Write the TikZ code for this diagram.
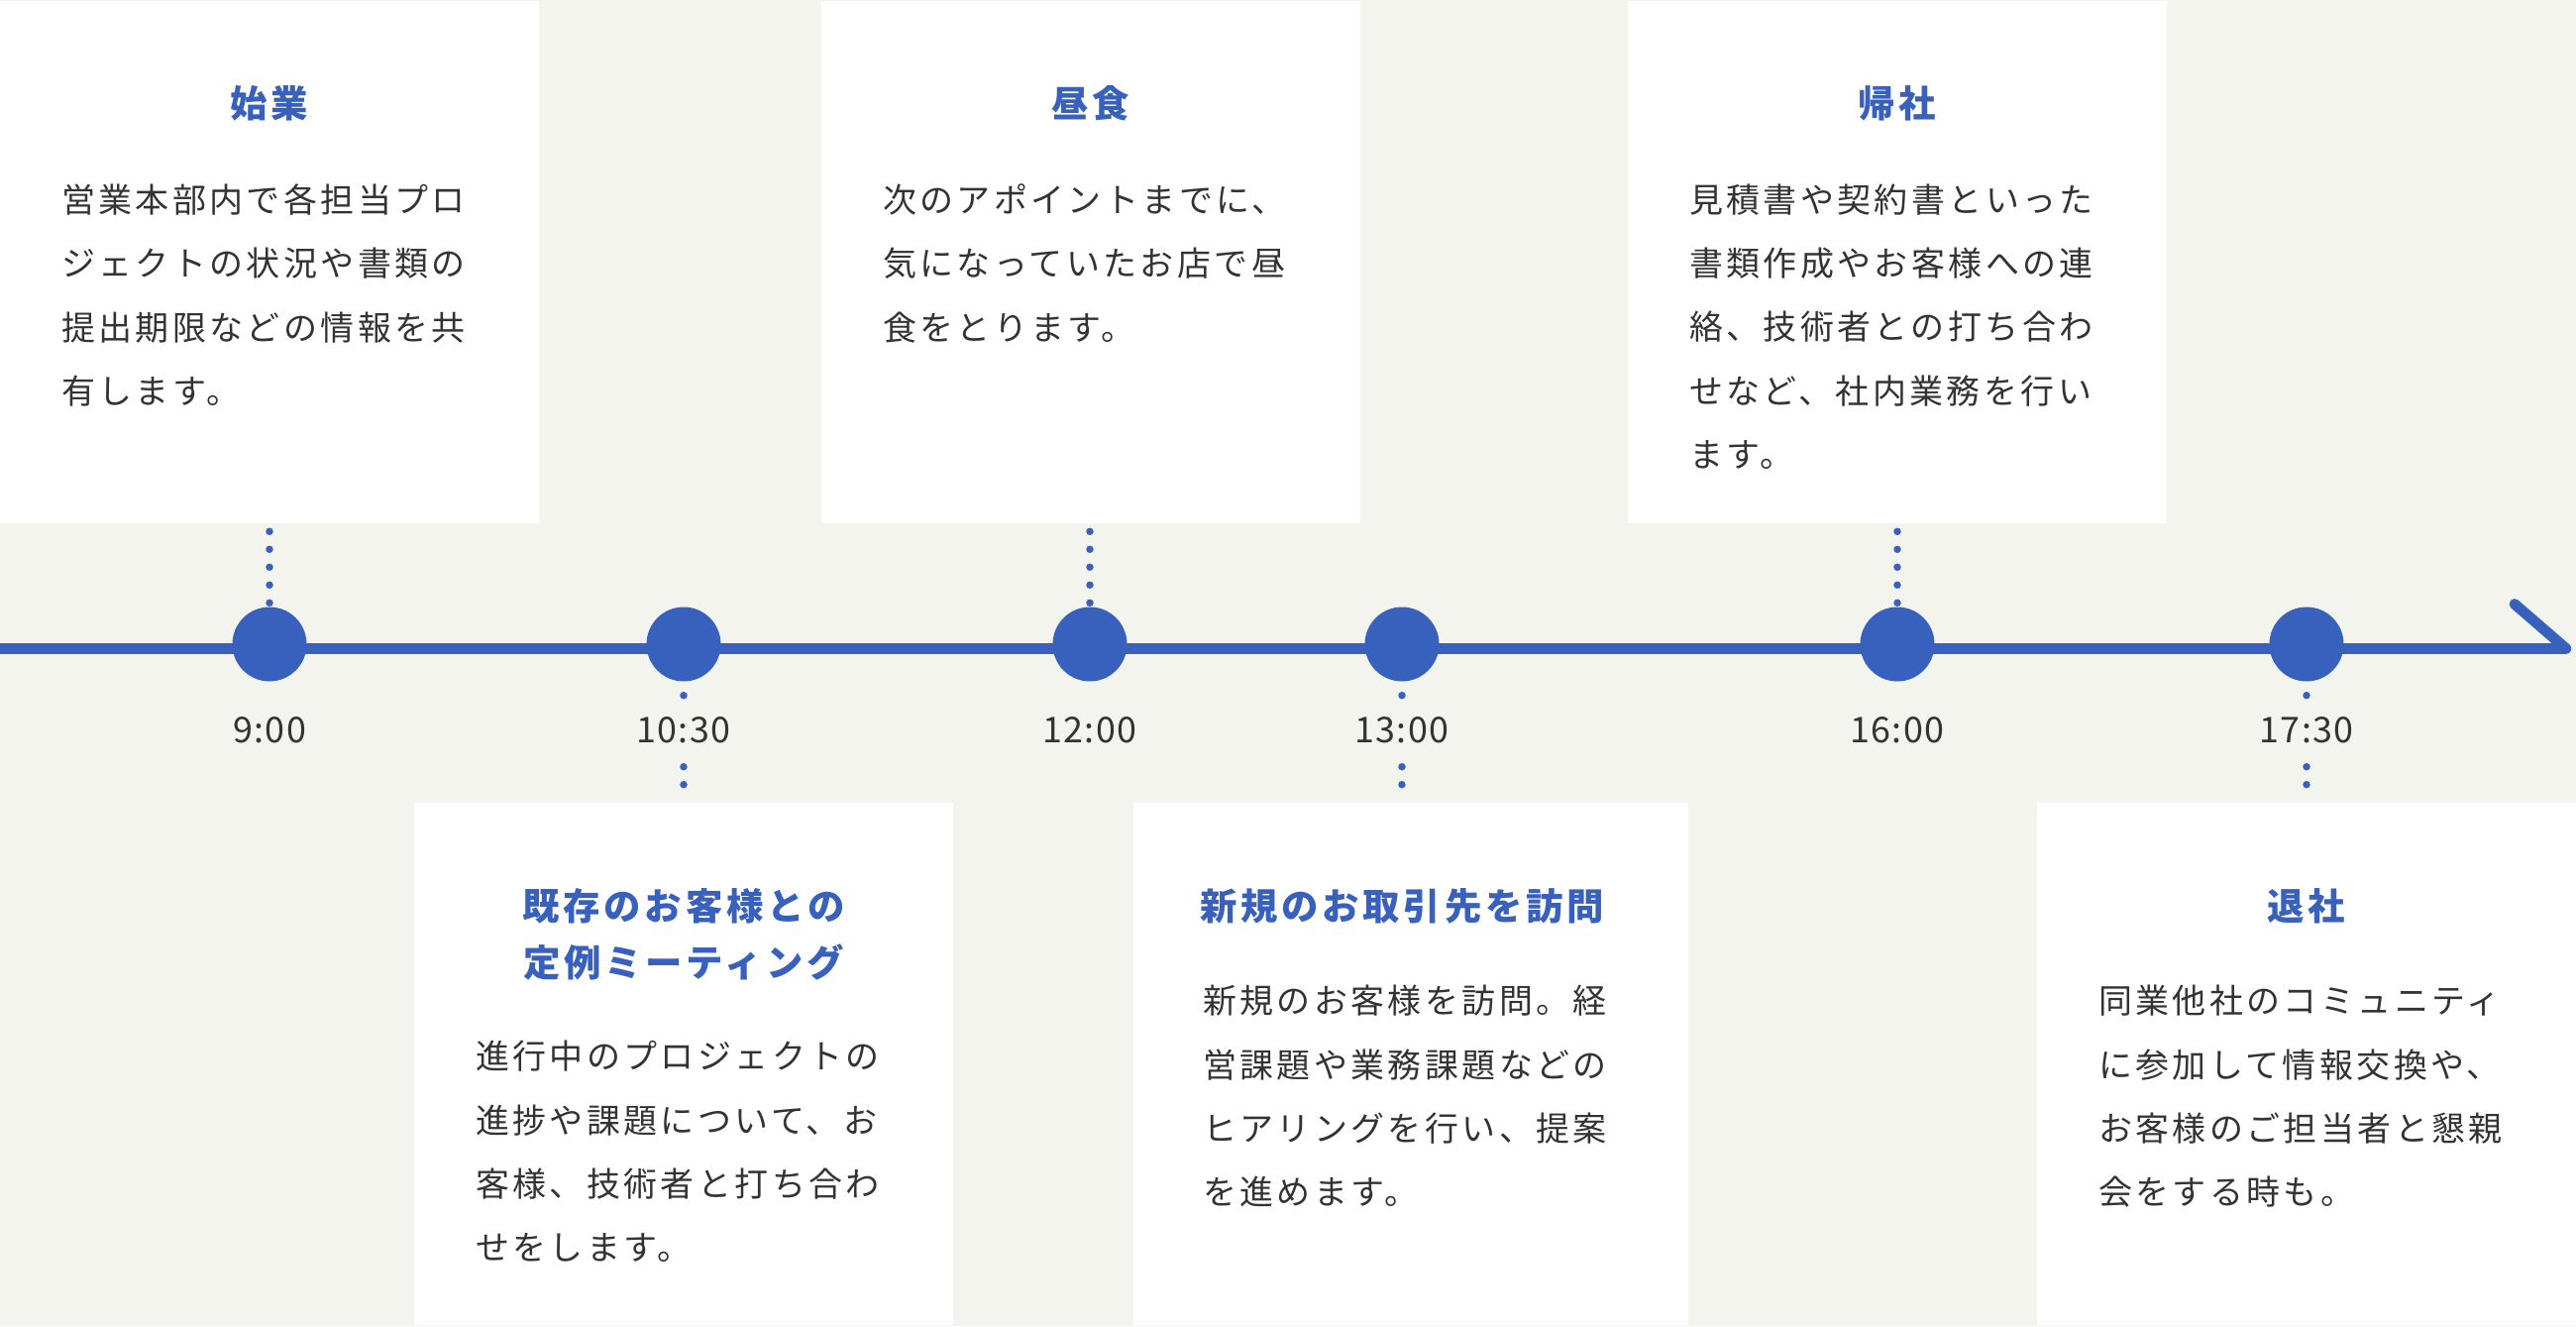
\documentclass[tikz,border=0pt]{standalone}
\usepackage{fontspec}
\usepackage{xcolor}
\usepackage{tikz}
\usetikzlibrary{positioning}

\newfontfamily\jbody[LetterSpace=10]{Noto Sans CJK JP}
\newfontfamily\jlabel[LetterSpace=4]{Noto Sans CJK JP}

\definecolor{tlblue}{HTML}{3861BD}
\definecolor{tlbg}{HTML}{F4F4EE}
\definecolor{tltext}{HTML}{333333}

\begin{document}
\begin{tikzpicture}[
    card/.style={rectangle, fill=white, inner sep=0pt, minimum width=5.44cm, minimum height=5.27cm},
    ttl/.style={inner sep=0pt, align=center, text=tlblue, font=\jbody\bfseries\fontsize{10.64pt}{16.2pt}\selectfont},
    body/.style={inner sep=0pt, align=left, text=tltext, font=\jbody\fontsize{9.67pt}{18.3pt}\selectfont},
    dot/.style={circle, fill=tlblue, minimum size=0.75cm, inner sep=0pt},
    time/.style={fill=tlbg, inner sep=0.05cm, minimum height=0.5cm, text=tltext, font=\jlabel\fontsize{10.2pt}{12pt}\selectfont},
    dotsup/.style={tlblue, line width=0.075cm, line cap=round, dash pattern=on 0pt off 0.18cm, dash phase=0.145cm},
    dotsdown/.style={tlblue, line width=0.075cm, line cap=round, dash pattern=on 0pt off 0.18cm, dash phase=0.045cm},
    timeline/.style={tlblue, line width=0.107cm, line cap=round, line join=round}
]

\fill[tlbg] (0,0) rectangle (26,13.38);
\useasboundingbox (0,0) rectangle (26,13.38);

% cards above the line
\node[card, anchor=north] (b900) at (2.72,13.38) {};
\node[card, anchor=north] (b1200) at (11.01,13.38) {};
\node[card, anchor=north] (b1600) at (19.15,13.38) {};

% cards below the line
\node[card, anchor=south] (b1030) at (6.90,0) {};
\node[card, anchor=south, minimum width=5.60cm] (b1300) at (14.24,0) {};
\node[card, anchor=south] (b1730) at (23.28,0) {};

\node[ttl, below=0.86cm of b900.north] (t900) {始業};
\node[body, below right=1.85cm and 0.62cm of b900.north west] (d900) {営業本部内で各担当プロ\\ジェクトの状況や書類の\\提出期限などの情報を共\\有します。};

\node[ttl, below=0.86cm of b1200.north] (t1200) {昼食};
\node[body, below right=1.85cm and 0.62cm of b1200.north west] (d1200) {次のアポイントまでに、\\気になっていたお店で昼\\食をとります。};

\node[ttl, below=0.86cm of b1600.north] (t1600) {帰社};
\node[body, below right=1.85cm and 0.62cm of b1600.north west] (d1600) {見積書や契約書といった\\書類作成やお客様への連\\絡、技術者との打ち合わ\\せなど、社内業務を行い\\ます。};

\node[ttl, below=0.86cm of b1030.north] (t1030) {既存のお客様との\\定例ミーティング};
\node[body, below right=2.40cm and 0.62cm of b1030.north west] (d1030) {進行中のプロジェクトの\\進捗や課題について、お\\客様、技術者と打ち合わ\\せをします。};

\node[ttl, below=0.86cm of b1300.north, xshift=-0.09cm] (t1300) {新規のお取引先を訪問};
\node[body, below right=1.84cm and 0.70cm of b1300.north west] (d1300) {新規のお客様を訪問。経\\営課題や業務課題などの\\ヒアリングを行い、提案\\を進めます。};

\node[ttl, below=0.86cm of b1730.north] (t1730) {退社};
\node[body, below right=1.84cm and 0.62cm of b1730.north west] (d1730) {同業他社のコミュニティ\\に参加して情報交換や、\\お客様のご担当者と懇親\\会をする時も。};

% the time line
\coordinate (tstart) at (0,6.835);
\coordinate (tend) at (25.90,6.835);
\draw[timeline] (tstart) -- (tend) -- ++(-0.52,0.45);

\node[dot] (c900) at (2.72,6.88) {};
\node[dot] (c1030) at (6.90,6.88) {};
\node[dot] (c1200) at (11.00,6.88) {};
\node[dot] (c1300) at (14.15,6.88) {};
\node[dot] (c1600) at (19.15,6.88) {};
\node[dot] (c1730) at (23.28,6.88) {};

\draw[dotsup] (c900.north) -- (c900.north |- b900.south);
\draw[dotsup] (c1200.north) -- (c1200.north |- b1200.south);
\draw[dotsup] (c1600.north) -- (c1600.north |- b1600.south);
\draw[dotsdown] (c1030.south) -- (c1030.south |- b1030.north);
\draw[dotsdown] (c1300.south) -- (c1300.south |- b1300.north);
\draw[dotsdown] (c1730.south) -- (c1730.south |- b1730.north);

\node[time, below=0.23cm of c900] (l900) {9:00};
\node[time, below=0.23cm of c1030] (l1030) {10:30};
\node[time, below=0.23cm of c1200] (l1200) {12:00};
\node[time, below=0.23cm of c1300] (l1300) {13:00};
\node[time, below=0.23cm of c1600] (l1600) {16:00};
\node[time, below=0.23cm of c1730] (l1730) {17:30};

\end{tikzpicture}
\end{document}
